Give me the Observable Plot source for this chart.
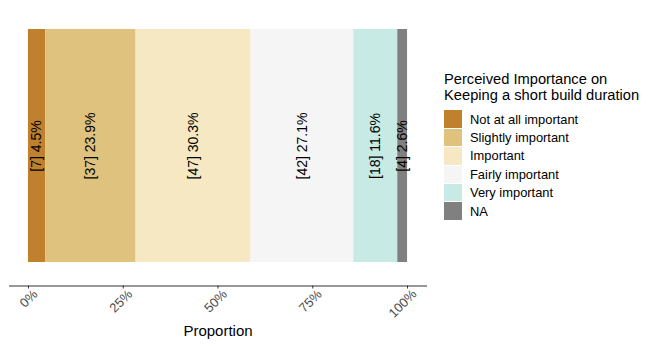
<!DOCTYPE html>
<html><head><meta charset="utf-8">
<script src="https://cdn.jsdelivr.net/npm/d3@7"></script>
<script src="https://cdn.jsdelivr.net/npm/@observablehq/plot@0.6"></script>
<style>
body{margin:0;background:#fff;font-family:"Liberation Sans",Arial,sans-serif;}
#wrap{position:relative;width:654px;height:346px;overflow:hidden;}
#legend{position:absolute;left:444px;top:70.5px;color:#000;}
#legend .title{font-size:14.7px;line-height:16.2px;margin-bottom:7px;white-space:nowrap;}
#legend .row{display:flex;align-items:center;height:18.4px;}
#legend .sw{width:18px;height:17.4px;margin-right:8px;}
#legend .lab{font-size:12.9px;white-space:nowrap;}
</style></head><body><div id="wrap"></div>
<script>
const levels = ["Not at all important","Slightly important","Important","Fairly important","Very important","NA"];
const counts = [7,37,47,42,18,4];
const percents = [4.5,23.9,30.3,27.1,11.6,2.6];
const colors = ["#bf812d","#dfc27d","#f6e8c3","#f5f5f5","#c7eae5","#808080"];
const question = "Keeping a short build duration";
const tickValues = [0,0.25,0.5,0.75,1];
const legendTitle = ["Perceived Importance on","Keeping a short build duration"];
const axisTitle = "Proportion";

const total = d3.sum(counts);
const data = levels.map((l,i)=>({level:l, n:counts[i], prop:counts[i]/total, pct:percents[i], q:question}));

const chart = Plot.plot({
  width:654, height:346,
  marginLeft:9, marginRight:228, marginTop:0, marginBottom:60.5,
  style:{fontFamily:"Liberation Sans, Arial, sans-serif", background:"#fff"},
  x:{domain:[-0.05,1.05]},
  y:{type:"band", domain:[question], range:[29,262], padding:0, axis:null},
  color:{domain:levels, range:colors},
  marks:[
    Plot.barX(data, Plot.stackX({x:"prop", y:"q", fill:"level", inset:0})),
    Plot.text(data, Plot.stackX({x:"prop", y:"q", z:"level", text:d=>`[${d.n}] ${d.pct}%`, rotate:-90, fontSize:14, fill:"#000"})),
    Plot.frame({anchor:"bottom", stroke:"#333", strokeWidth:1.1}),
    Plot.axisX({ticks:tickValues, tickFormat:()=>"", tickSize:3, stroke:"#333", label:null}),
    Plot.axisX({ticks:tickValues, tickFormat:d=>Math.round(d*100)+"%", tickRotate:-45, tickSize:0, tickPadding:6, dx:7, fill:"#4d4d4d", fontSize:13, label:null}),
    Plot.text([axisTitle], {frameAnchor:"bottom", dy:45.5, lineAnchor:"middle", fontSize:15, fill:"#000"})
  ]
});
const wrap = document.getElementById("wrap");
wrap.appendChild(chart);

const legend = document.createElement("div");
legend.id = "legend";
legend.innerHTML = `<div class="title">${legendTitle.join("<br>")}</div>` +
  levels.map((l,i)=>`<div class="row"><div class="sw" style="background:${colors[i]}"></div><div class="lab">${l}</div></div>`).join("");
wrap.appendChild(legend);
</script>
</body></html>
